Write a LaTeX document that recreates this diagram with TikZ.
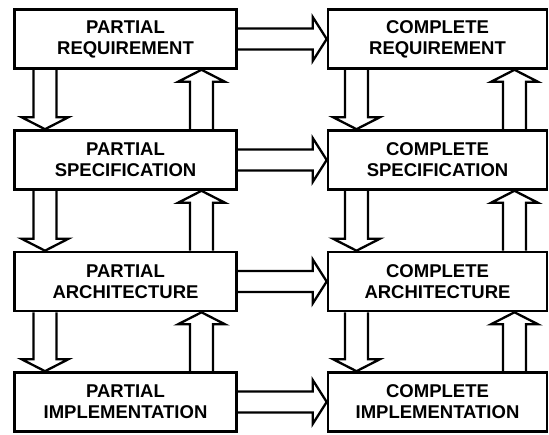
\documentclass[tikz,border=0pt]{standalone}
\usepackage{fontspec}
\setmainfont{Liberation Sans}
\usetikzlibrary{calc}
\tikzset{
  stagebox/.style={draw, line width=2.6pt, align=center, inner sep=0pt,
    font=\bfseries\fontsize{18.5}{21}\selectfont},
  leftbox/.style={stagebox, minimum width=222pt, minimum height=59pt},
  rightbox/.style={stagebox, minimum width=219pt, minimum height=59pt},
  fatarrow/.style={draw, line width=2.3pt, line join=miter, miter limit=10},
}
% vertical fat arrow: #1 start node anchor, #2 end node anchor, #3 x center, #4 direction sign (+1 up, -1 down)
\newcommand\vfat[4]{%
  \path[fatarrow] let \p1=(#1), \p2=(#2) in
    (#3-11.5,\y1) -- (#3-11.5,\y2-#4*12) -- (#3-23.5,\y2-#4*12) -- (#3,\y2)
    -- (#3+23.5,\y2-#4*12) -- (#3+11.5,\y2-#4*12) -- (#3+11.5,\y1);}
\newcommand\hfat[2]{%
  \path[fatarrow] let \p1=(#1.east), \p2=(#2.west) in
    (\x1,\y1+10.5) -- (\x2-14,\y1+10.5) -- (\x2-14,\y1+22) -- (\x2,\y1)
    -- (\x2-14,\y1-22) -- (\x2-14,\y1-10.5) -- (\x1,\y1-10.5);}
\begin{document}
\begin{tikzpicture}[x=1pt,y=1pt]
\useasboundingbox (0,0) rectangle (549,435);
\node[leftbox] (pr) at (125.5,396) {PARTIAL\\REQUIREMENT};
\node[leftbox] (ps) at (125.5,275) {PARTIAL\\SPECIFICATION};
\node[leftbox] (pa) at (125.5,153.5) {PARTIAL\\ARCHITECTURE};
\node[leftbox] (pi) at (125.5,33) {PARTIAL\\IMPLEMENTATION};
\node[rightbox] (cr) at (437.5,396) {COMPLETE\\REQUIREMENT};
\node[rightbox] (cs) at (437.5,275) {COMPLETE\\SPECIFICATION};
\node[rightbox] (ca) at (437.5,153.5) {COMPLETE\\ARCHITECTURE};
\node[rightbox] (ci) at (437.5,33) {COMPLETE\\IMPLEMENTATION};
% horizontal arrows
\hfat{pr}{cr}
\hfat{ps}{cs}
\hfat{pa}{ca}
\hfat{pi}{ci}
% left column
\vfat{pr.south}{ps.north}{45}{-1}
\vfat{ps.north}{pr.south}{201.5}{1}
\vfat{ps.south}{pa.north}{45}{-1}
\vfat{pa.north}{ps.south}{201.5}{1}
\vfat{pa.south}{pi.north}{45}{-1}
\vfat{pi.north}{pa.south}{201.5}{1}
% right column
\vfat{cr.south}{cs.north}{356.5}{-1}
\vfat{cs.north}{cr.south}{514.5}{1}
\vfat{cs.south}{ca.north}{356.5}{-1}
\vfat{ca.north}{cs.south}{514.5}{1}
\vfat{ca.south}{ci.north}{356.5}{-1}
\vfat{ci.north}{ca.south}{514.5}{1}
\end{tikzpicture}
\end{document}
